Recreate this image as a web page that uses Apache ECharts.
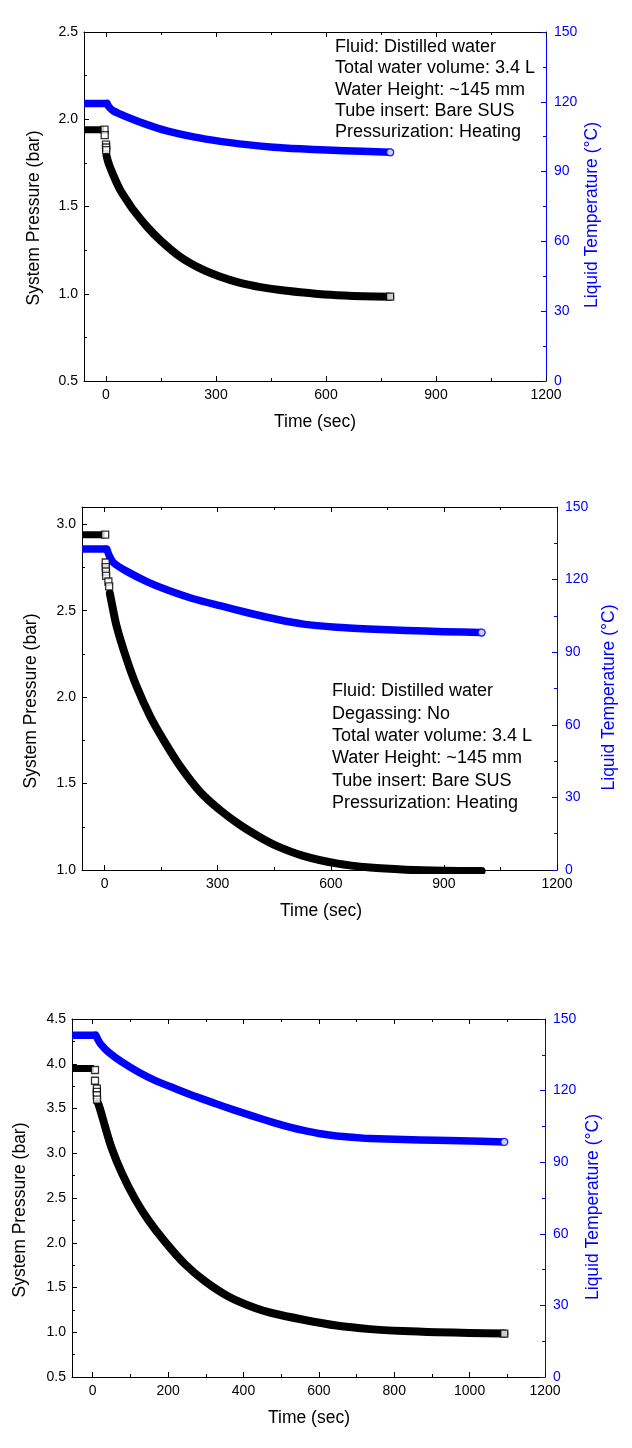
<!DOCTYPE html>
<html><head><meta charset="utf-8">
<script src="https://cdn.jsdelivr.net/npm/echarts@6/dist/echarts.min.js"></script>
<style>html,body{margin:0;padding:0;background:#fff}#c{width:632px;height:1448px}</style>
</head><body><div id="c"></div>
<script>
// ---------------- DATA ----------------
// Panel 1
const c1PressPlateau = [[-60, 1.94], [-5, 1.94]];
const c1PressDrop = [[-4, 1.94], [-3.5, 1.909], [0, 1.855], [0.3, 1.838], [0.6, 1.823]];
const c1PressDecay = [[1.5, 1.79], [6, 1.755], [12, 1.72], [25, 1.655], [39, 1.594], [60, 1.525], [75, 1.479], [112, 1.384], [148, 1.307], [202, 1.212], [257, 1.145], [312, 1.097], [366, 1.062], [421, 1.038], [475, 1.022], [530, 1.009], [580, 0.999], [650, 0.99], [700, 0.986], [775, 0.983]];
const c1TempPlateau = [[-60, 119.3], [3, 119.3]];
const c1TempDecay = [[3, 119.3], [8, 117.8], [20, 116.1], [57, 113.5], [112, 110.2], [166, 107.5], [239, 104.9], [312, 103.0], [384, 101.6], [457, 100.5], [530, 99.8], [600, 99.3], [700, 98.7], [775, 98.3]];
// Panel 2
const c2PressPlateau = [[-60, 2.94], [0, 2.94]];
const c2PressDrop = [[1.5, 2.94], [3, 2.779], [3, 2.752], [3.5, 2.727], [4, 2.702], [10, 2.669], [12, 2.641]];
const c2PressDecay = [[14, 2.6], [19, 2.544], [32, 2.409], [59, 2.216], [85, 2.061], [121, 1.888], [156, 1.753], [201, 1.598], [253, 1.453], [306, 1.347], [359, 1.261], [412, 1.19], [456, 1.14], [527, 1.082], [615, 1.038], [704, 1.014], [800, 1.002], [900, 0.996], [1000, 0.994]];
const c2TempPlateau = [[-60, 132.6], [6, 132.6]];
const c2TempDecay = [[6, 132.6], [12, 130.0], [23, 127.1], [59, 123.4], [112, 119.2], [165, 115.8], [235, 112.1], [306, 109.2], [377, 106.4], [456, 103.6], [527, 101.6], [615, 100.3], [700, 99.6], [800, 99.0], [900, 98.5], [1000, 98.1]];
// Panel 3
const c3PressPlateau = [[-55, 3.946], [3, 3.946]];
const c3PressDrop = [[6, 3.93], [6, 3.81], [11, 3.723], [11, 3.685], [11, 3.648], [11.5, 3.6]];
const c3PressDecay = [[14, 3.56], [19, 3.5], [33, 3.294], [50, 3.06], [77, 2.78], [112, 2.49], [148, 2.25], [192, 2.01], [245, 1.76], [298, 1.57], [360, 1.40], [431, 1.27], [475, 1.215], [559, 1.14], [647, 1.075], [736, 1.035], [824, 1.013], [913, 1.0], [1000, 0.993], [1092, 0.985]];
const c3TempPlateau = [[-55, 143.2], [8, 143.2]];
const c3TempDecay = [[8, 143.2], [14, 141.3], [20, 139.7], [41, 136.2], [77, 132.0], [121, 127.8], [165, 124.3], [218, 120.9], [271, 117.6], [325, 114.6], [378, 111.7], [431, 109.0], [480, 106.6], [520, 104.8], [559, 103.3], [600, 102.0], [647, 101.0], [700, 100.3], [736, 99.9], [824, 99.5], [913, 99.2], [975, 99.0], [1092, 98.5]];

// Tick values
const timeTicks300 = [0, 300, 600, 900, 1200];
const timeMinor300 = [150, 450, 750, 1050];
const timeTicks200 = [0, 200, 400, 600, 800, 1000, 1200];
const timeMinor200 = [100, 300, 500, 700, 900, 1100];
const c1PressTicks = [0.5, 1.0, 1.5, 2.0, 2.5];
const c1PressMinor = [0.75, 1.25, 1.75, 2.25];
const c2PressTicks = [1.0, 1.5, 2.0, 2.5, 3.0];
const c2PressMinor = [1.25, 1.75, 2.25, 2.75];
const c3PressTicks = [0.5, 1.0, 1.5, 2.0, 2.5, 3.0, 3.5, 4.0, 4.5];
const c3PressMinor = [0.75, 1.25, 1.75, 2.25, 2.75, 3.25, 3.75, 4.25];
const tempTicks = [0, 30, 60, 90, 120, 150];
const tempMinor = [15, 45, 75, 105, 135];

// Text
const xTitle = 'Time (sec)';
const yLeftTitle = 'System Pressure (bar)';
const yRightTitle = 'Liquid Temperature (°C)';
const note1 = ['Fluid: Distilled water', 'Total water volume: 3.4 L', 'Water Height: ~145 mm', 'Tube insert: Bare SUS', 'Pressurization: Heating'];
const note2 = ['Fluid: Distilled water', 'Degassing: No', 'Total water volume: 3.4 L', 'Water Height: ~145 mm', 'Tube insert: Bare SUS', 'Pressurization: Heating'];

// ---------------- BUILD ----------------
const FONT = "'Liberation Sans', Arial, Helvetica, sans-serif";
const BLUE = '#0000ff';
const BAND = 8;
const grids = [], xAxes = [], yAxes = [], series = [], graphics = [];

function tickAxis(base, pos, color, vals, len, line, labels, fmt, margin) {
  return Object.assign({}, base, {
    position: pos,
    splitLine: { show: false },
    axisLine: { show: line, onZero: false, lineStyle: { color: color, width: 1 } },
    axisTick: { show: true, inside: true, length: len, customValues: vals, lineStyle: { color: color, width: 1 } },
    axisLabel: labels ? { show: true, customValues: vals, color: color, fontSize: 14, fontFamily: FONT, margin: margin, formatter: fmt } : { show: false }
  });
}

function addPanel(p) {
  const g = grids.length;
  grids.push({ left: p.left, top: p.top, width: p.width, height: p.height, containLabel: false });
  const xi = xAxes.length, yi = yAxes.length;
  const xb = { type: 'value', gridIndex: g, min: p.xMin, max: p.xMax };
  xAxes.push(tickAxis(xb, 'bottom', '#000', p.xTicks, 5, true, true, v => String(v), 7));
  xAxes.push(tickAxis(xb, 'bottom', '#000', p.xMinor, 3, false, false));
  xAxes.push(tickAxis(xb, 'top', '#000', p.xTicks, 5, true, false));
  xAxes.push(tickAxis(xb, 'top', '#000', p.xMinor, 3, false, false));
  const yb = { type: 'value', gridIndex: g, min: p.yMin, max: p.yMax };
  const tb = { type: 'value', gridIndex: g, min: 0, max: 150 };
  yAxes.push(tickAxis(yb, 'left', '#000', p.yTicks, 5, true, true, v => v.toFixed(1), 6));
  yAxes.push(tickAxis(yb, 'left', '#000', p.yMinor, 3, false, false));
  yAxes.push(tickAxis(tb, 'right', BLUE, tempTicks, 5, true, true, v => String(v), 8));
  yAxes.push(tickAxis(tb, 'right', BLUE, tempMinor, 3, false, false));
  const common = { xAxisIndex: xi, animation: false, silent: true };
  series.push(Object.assign({}, common, { type: 'line', yAxisIndex: yi, data: p.plateau, symbol: 'none', lineStyle: { color: '#000', width: BAND - 1 }, z: 2 }));
  series.push(Object.assign({}, common, { type: 'line', yAxisIndex: yi, data: p.decay, symbol: 'none', smooth: 0.3, lineStyle: { color: '#000', width: BAND, join: 'round', cap: 'round' }, z: 2 }));
  const hollow = p.drop.concat(p.endSquare ? [p.decay[p.decay.length - 1]] : []);
  series.push(Object.assign({}, common, { type: 'scatter', yAxisIndex: yi, data: hollow, symbol: 'rect', symbolSize: 7, itemStyle: { color: '#fff', borderColor: '#000', borderWidth: 1.3 }, z: 4 }));
  series.push(Object.assign({}, common, { type: 'line', yAxisIndex: yi + 2, data: p.tPlateau, symbol: 'none', lineStyle: { color: BLUE, width: BAND - 0.5 }, z: 3 }));
  series.push(Object.assign({}, common, { type: 'line', yAxisIndex: yi + 2, data: p.tDecay, symbol: 'none', smooth: 0.2, lineStyle: { color: BLUE, width: BAND - 0.5, join: 'round', cap: 'round' }, z: 3 }));
  series.push(Object.assign({}, common, { type: 'scatter', yAxisIndex: yi + 2, data: [p.tDecay[p.tDecay.length - 1]], symbol: 'circle', symbolSize: 7, itemStyle: { color: '#fff', borderColor: BLUE, borderWidth: 1.3 }, z: 4 }));

  const tf = '17.5px ' + FONT;
  graphics.push({ type: 'text', x: p.xt[0], y: p.xt[1], style: { text: xTitle, fill: '#000', font: tf, align: 'center', verticalAlign: 'middle', textAlign: 'center', textVerticalAlign: 'middle' }, silent: true });
  graphics.push({ type: 'text', x: p.yl[0], y: p.yl[1], rotation: Math.PI / 2, style: { text: yLeftTitle, fill: '#000', font: tf, align: 'center', verticalAlign: 'middle', textAlign: 'center', textVerticalAlign: 'middle' }, silent: true });
  graphics.push({ type: 'text', x: p.yr[0], y: p.yr[1], rotation: Math.PI / 2, style: { text: yRightTitle, fill: BLUE, font: tf, align: 'center', verticalAlign: 'middle', textAlign: 'center', textVerticalAlign: 'middle' }, silent: true });
  if (p.note) {
    p.note.forEach((line, i) => {
      graphics.push({ type: 'text', x: p.noteX, y: p.noteY + i * p.noteDy, style: { text: line, fill: '#000', font: '18px ' + FONT, align: 'left', verticalAlign: 'middle', textAlign: 'left', textVerticalAlign: 'middle' }, silent: true });
    });
  }
}

addPanel({ left: 84, top: 32, width: 462, height: 349, xMin: -60, xMax: 1200, yMin: 0.5, yMax: 2.5,
  xTicks: timeTicks300, xMinor: timeMinor300, yTicks: c1PressTicks, yMinor: c1PressMinor,
  plateau: c1PressPlateau, drop: c1PressDrop, decay: c1PressDecay, tPlateau: c1TempPlateau, tDecay: c1TempDecay, endSquare: true,
  xt: [315, 422.5], yl: [34, 218], yr: [592, 215], note: note1, noteX: 335, noteY: 47, noteDy: 21.3 });
addPanel({ left: 82, top: 507, width: 475, height: 363, xMin: -60, xMax: 1200, yMin: 1.0, yMax: 3.1,
  xTicks: timeTicks300, xMinor: timeMinor300, yTicks: c2PressTicks, yMinor: c2PressMinor,
  plateau: c2PressPlateau, drop: c2PressDrop, decay: c2PressDecay, tPlateau: c2TempPlateau, tDecay: c2TempDecay, endSquare: false,
  xt: [321, 911.5], yl: [31, 701], yr: [609, 697.5], note: note2, noteX: 332, noteY: 691.5, noteDy: 22.3 });
addPanel({ left: 72, top: 1019, width: 473, height: 358, xMin: -55, xMax: 1200, yMin: 0.5, yMax: 4.5,
  xTicks: timeTicks200, xMinor: timeMinor200, yTicks: c3PressTicks, yMinor: c3PressMinor,
  plateau: c3PressPlateau, drop: c3PressDrop, decay: c3PressDecay, tPlateau: c3TempPlateau, tDecay: c3TempDecay, endSquare: true,
  xt: [309, 1418], yl: [20.5, 1210], yr: [593, 1207], note: null });

const chart = echarts.init(document.getElementById('c'), null, { renderer: 'canvas', width: 632, height: 1448 });
chart.setOption({
  animation: false,
  backgroundColor: '#ffffff',
  textStyle: { fontFamily: FONT },
  grid: grids, xAxis: xAxes, yAxis: yAxes, series: series, graphic: graphics
});
</script></body></html>
